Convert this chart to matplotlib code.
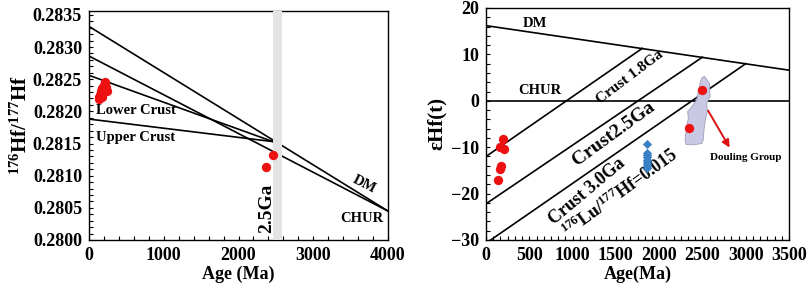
import numpy as np
import matplotlib
matplotlib.use("Agg")
import matplotlib.pyplot as plt
from matplotlib.ticker import MultipleLocator, AutoMinorLocator
from matplotlib.patches import Polygon

plt.rcParams['font.family'] = ['Liberation Serif', 'DejaVu Serif']
plt.rcParams['font.weight'] = 'bold'
plt.rcParams['axes.labelweight'] = 'bold'
plt.rcParams['mathtext.fontset'] = 'custom'
plt.rcParams['mathtext.rm'] = 'Liberation Serif:bold'
plt.rcParams['mathtext.bf'] = 'Liberation Serif:bold'
plt.rcParams['mathtext.it'] = 'Liberation Serif:bold:italic'

# ---- panel a: 176Hf/177Hf vs age ----
dm_age = [0, 4000]
dm_hf = [0.28332, 0.28045]
chur_age = [0, 4000]
chur_hf = [0.28286, 0.28045]
lc_age = [0, 2460]
lc_hf = [0.28256, 0.28153]
uc_age = [0, 2460]
uc_hf = [0.28188, 0.28153]
bar_age = [2466, 2578]

zr_age = [215, 200, 230, 180, 240, 165, 190, 150, 170, 140, 205, 135]
zr_hf = [0.28246, 0.28241, 0.28238, 0.28236, 0.28232, 0.28231, 0.28228,
         0.28225, 0.28223, 0.28219, 0.28233, 0.28222]
old_age = [2466, 2363]
old_hf = [0.28132, 0.28114]

# ---- panel b: eHf(t) vs age ----
dm2_age = [0, 3500]
dm2_eps = [16.2, 6.6]
c18_age = [0, 1805]
c18_eps = [-12.0, 11.3]
c25_age = [0, 2500]
c25_eps = [-22.2, 9.4]
c30_age = [0, 3000]
c30_eps = [-30.7, 8.0]

red_age = [200, 162, 211, 173, 162, 142, 2499, 2349]
red_eps = [-8.2, -9.9, -10.4, -14.0, -14.7, -17.1, 2.3, -5.8]
blue_age = [1856, 1856, 1856, 1856, 1856, 1856, 1856, 1856, 1856]
blue_eps = [-9.4, -11.2, -11.7, -12.2, -12.7, -13.2, -13.7, -14.1, -14.5]

douling_age = [2522, 2580, 2588, 2549, 2557, 2534, 2518, 2510, 2492, 2395,
               2310, 2299, 2318, 2337, 2330, 2376, 2434, 2452, 2472, 2492]
douling_eps = [5.3, 3.8, 0.9, -0.5, -2.3, -4.1, -6.3, -8.4, -9.2, -9.5,
               -9.4, -8.4, -5.6, -3.8, -2.3, -1.3, 0.2, 2.0, 3.8, 4.9]

fig = plt.figure(figsize=(8.09, 2.92), dpi=100)
ax1 = fig.add_axes([89 / 809, 1 - 240 / 292, 299 / 809, 229 / 292])
ax2 = fig.add_axes([486 / 809, 1 - 240 / 292, 303 / 809, 232 / 292])

lw = 1.2
ax1.plot(dm_age, dm_hf, color='black', lw=lw)
ax1.plot(chur_age, chur_hf, color='black', lw=lw)
ax1.plot(lc_age, lc_hf, color='black', lw=lw)
ax1.plot(uc_age, uc_hf, color='black', lw=lw)
ax1.axvspan(bar_age[0], bar_age[1], color='#e3e3e3', zorder=3, lw=0)
ax1.scatter(zr_age, zr_hf, s=45, color='#ee1111', zorder=4, lw=0)
ax1.scatter(old_age, old_hf, s=45, color='#ee1111', zorder=4, lw=0)

ax1.text(95, 0.28201, 'Lower Crust', fontsize=10.5, va='center')
ax1.text(95, 0.28159, 'Upper Crust', fontsize=10.5, va='center')
ax1.text(3680, 0.28087, 'DM', fontsize=10.5, va='center', ha='center', rotation=-27)
ax1.text(3650, 0.28033, 'CHUR', fontsize=10.5, va='center', ha='center')
ax1.text(2375, 0.28049, '2.5Ga', fontsize=14, va='center', ha='center', rotation=90, zorder=5)

ax1.set_xlim(0, 4000)
ax1.set_ylim(0.2800, 0.28356)
ax1.xaxis.set_major_locator(MultipleLocator(1000))
ax1.xaxis.set_minor_locator(MultipleLocator(200))
ax1.yaxis.set_major_locator(MultipleLocator(0.0005))
ax1.yaxis.set_minor_locator(MultipleLocator(0.0001))
ax1.yaxis.set_major_formatter(plt.FuncFormatter(lambda v, p: f'{v:.4f}'))
ax1.set_xlabel('Age (Ma)', fontsize=13, labelpad=1)
ax1.set_ylabel(r'$^{176}$Hf/$^{177}$Hf', fontsize=15, labelpad=1)

ax2.plot(dm2_age, dm2_eps, color='black', lw=lw)
ax2.axhline(0, color='black', lw=lw)
ax2.plot(c18_age, c18_eps, color='black', lw=lw)
ax2.plot(c25_age, c25_eps, color='black', lw=lw)
ax2.plot(c30_age, c30_eps, color='black', lw=lw)
ax2.add_patch(Polygon(np.column_stack([douling_age, douling_eps]), closed=True,
                      facecolor='#c9c9e6', edgecolor='#a0a0b8', lw=0.6, zorder=2))
ax2.scatter(red_age, red_eps, s=45, color='#ee1111', zorder=4, lw=0)
ax2.scatter(blue_age, blue_eps, s=22, marker='D', color='#3a80c4', zorder=4, lw=0)
ax2.annotate('', xy=(2830, -10.6), xytext=(2549, -1.6),
             arrowprops=dict(arrowstyle='-|>', color='#dd1111', lw=1.4,
                             mutation_scale=11), zorder=5)

ax2.text(430, 16.7, 'DM', fontsize=10.5, va='center')
ax2.text(370, 2.3, 'CHUR', fontsize=10.5, va='center')
ax2.text(2590, -12.2, 'Douling Group', fontsize=8, va='center')
ax2.text(1663, 5.2, 'Crust 1.8Ga', fontsize=11, ha='center', va='center', rotation=37)
ax2.text(1471, -7.0, 'Crust2.5Ga', fontsize=14, ha='center', va='center', rotation=36)
ax2.text(1163, -19.6, 'Crust 3.0Ga', fontsize=13, ha='center', va='center', rotation=40)
ax2.text(1548, -19.9, r'$^{176}$Lu/$^{177}$Hf=0.015', fontsize=13,
         ha='center', va='center', rotation=36)

ax2.set_xlim(0, 3500)
ax2.set_ylim(-30, 20)
ax2.xaxis.set_major_locator(MultipleLocator(500))
ax2.xaxis.set_minor_locator(AutoMinorLocator(6))
ax2.yaxis.set_major_locator(MultipleLocator(10))
ax2.yaxis.set_minor_locator(MultipleLocator(2))
ax2.set_xlabel('Age(Ma)', fontsize=13, labelpad=1)
ax2.set_ylabel('εHf(t)', fontsize=15, labelpad=3)

for ax in (ax1, ax2):
    ax.tick_params(which='both', direction='in', length=3, width=0.8,
                   top=False, right=False, labelsize=13)
    ax.tick_params(which='major', pad=5)
    for s in ax.spines.values():
        s.set_linewidth(1.0)
    for lab in ax.get_xticklabels() + ax.get_yticklabels():
        lab.set_fontweight('bold')

fig.savefig('out.png', dpi=100)
